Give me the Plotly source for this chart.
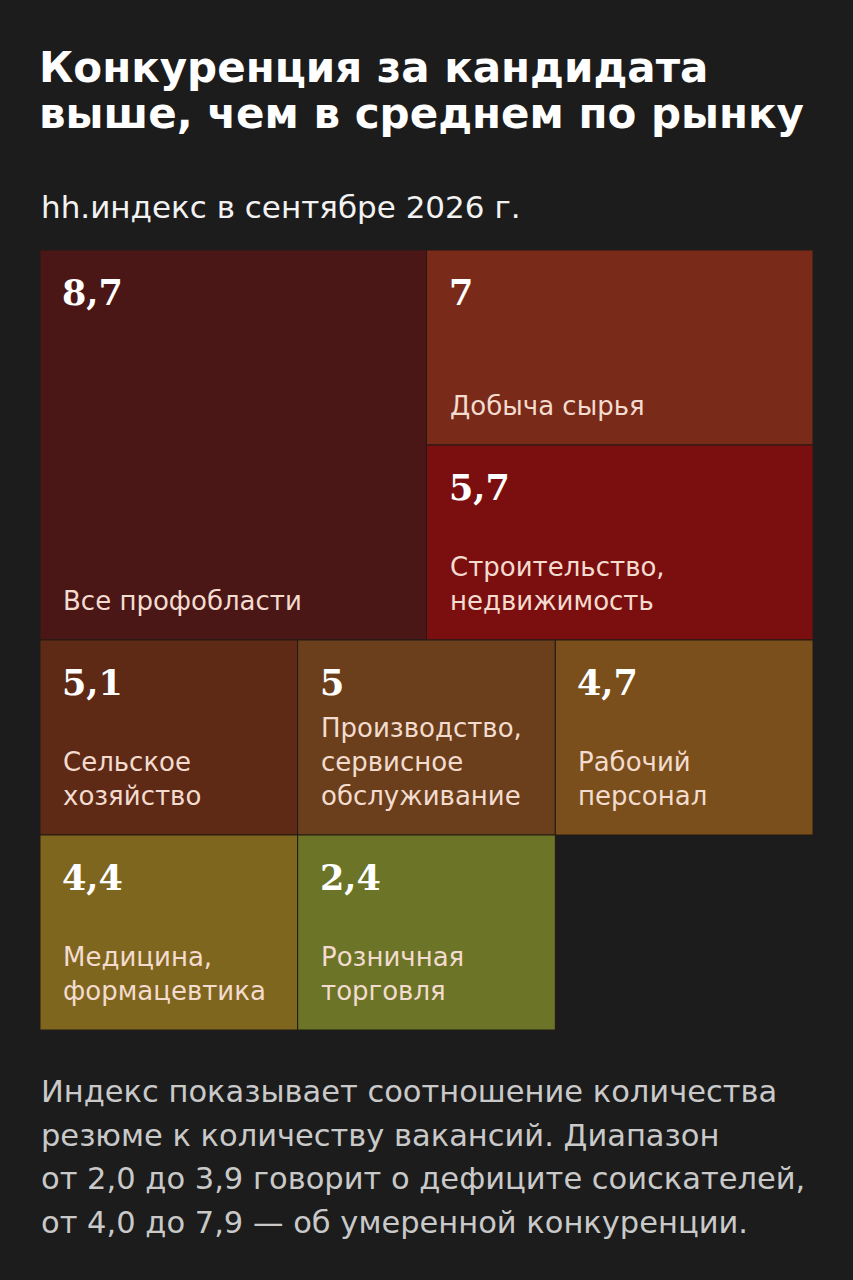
import plotly.graph_objects as go

# ---------------- data ----------------
categories = [
    "Все профобласти",
    "Добыча сырья",
    "Строительство,<br>недвижимость",
    "Сельское<br>хозяйство",
    "Производство,<br>сервисное<br>обслуживание",
    "Рабочий<br>персонал",
    "Медицина,<br>формацевтика",
    "Розничная<br>торговля",
]
index_values = [8.7, 7.0, 5.7, 5.1, 5.0, 4.7, 4.4, 2.4]

title_lines = ["Конкуренция за кандидата", "выше, чем в среднем по рынку"]
subtitle = "hh.индекс в сентябре 2026 г."
note_lines = [
    "Индекс показывает соотношение количества",
    "резюме к количеству вакансий. Диапазон",
    "от 2,0 до 3,9 говорит о дефиците соискателей,",
    "от 4,0 до 7,9 — об умеренной конкуренции.",
]

# ---------------- styles ----------------
tile_colors = ["#4b1616", "#7a2a19", "#7b0f10", "#5e2a16",
               "#6b3f1b", "#7a4f1c", "#7f661f", "#6b7427"]
BG = "#1c1c1c"
SANS = "'DejaVu Sans', sans-serif"
SERIF = "'DejaVu Serif', serif"

W, H = 853, 1280
ML, MR, MT, MB = 40, 40, 250, 250


def grid_layout(n):
    """Tile placement on a 6-column grid: leader block, two side tiles, then rows of three."""
    cells = [(0, 0, 3, 2), (3, 0, 3, 1), (3, 1, 3, 1)]
    k = 0
    while len(cells) < n:
        cells.append(((k % 3) * 2, 2 + k // 3, 2, 1))
        k += 1
    return cells[:n]


cells = grid_layout(len(index_values))
xc = [c + w / 2 for c, r, w, h in cells]
widths = [w for c, r, w, h in cells]
bases = [r for c, r, w, h in cells]
heights = [h for c, r, w, h in cells]


def fmt(v):
    s = f"{v:g}"
    return s.replace(".", ",")


fig = go.Figure(go.Bar(
    x=xc, y=heights, base=bases, width=widths,
    marker=dict(color=tile_colors, line=dict(color="#241a14", width=1)),
    hoverinfo="skip",
))

annotations = []
for (c, r, w, h), v, lab in zip(cells, index_values, categories):
    annotations.append(dict(
        x=c, y=r, xref="x", yref="y", xanchor="left", yanchor="top",
        text=f"<b>{fmt(v)}</b>", showarrow=False, xshift=21, yshift=-21, borderpad=0,
        font=dict(family=SERIF, size=35, color="#ffffff"),
    ))
    annotations.append(dict(
        x=c, y=r + h, xref="x", yref="y", xanchor="left", yanchor="bottom",
        text=lab, showarrow=False, xshift=22, yshift=23, borderpad=0, align="left",
        font=dict(family=SANS, size=26, color="#f3dccf"),
    ))


def py(pix):
    return (H - MB - pix) / (H - MT - MB)


for i, line in enumerate(title_lines):
    annotations.append(dict(
        x=0, y=py(93 + 46 * i), xref="paper", yref="paper", xanchor="left", yanchor="bottom",
        text=f"<b>{line}</b>", showarrow=False, borderpad=0, xshift=-2,
        font=dict(family=SANS, size=42, color="#ffffff"),
    ))
annotations.append(dict(
    x=0, y=py(226), xref="paper", yref="paper", xanchor="left", yanchor="bottom",
    text=subtitle, showarrow=False, borderpad=0,
    font=dict(family=SANS, size=31, color="#f2f2f2"),
))
for i, line in enumerate(note_lines):
    annotations.append(dict(
        x=0, y=py(1110 + 43.5 * i), xref="paper", yref="paper", xanchor="left", yanchor="bottom",
        text=line, showarrow=False, borderpad=0,
        font=dict(family=SANS, size=30.5, color="#c9c9c9"),
    ))

fig.update_layout(
    width=W, height=H,
    margin=dict(l=ML, r=MR, t=MT, b=MB),
    paper_bgcolor=BG, plot_bgcolor=BG,
    showlegend=False,
    xaxis=dict(range=[0, 6], visible=False, fixedrange=True),
    yaxis=dict(range=[4, 0], visible=False, fixedrange=True),
    annotations=annotations,
)

fig.write_html(
    "out.html",
    config={"displayModeBar": False},
    post_script="document.body.style.margin='0';document.body.style.background='#1c1c1c';",
)
